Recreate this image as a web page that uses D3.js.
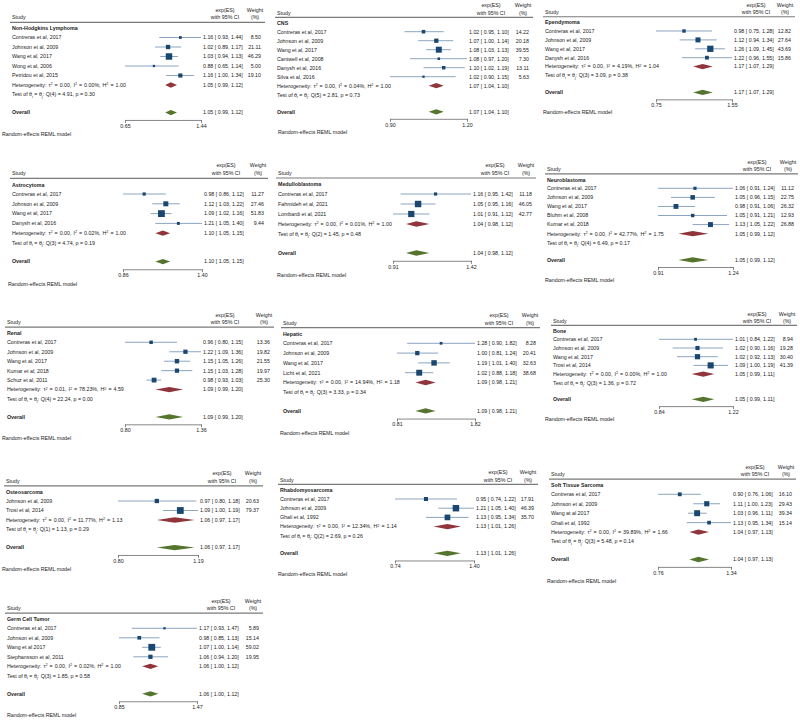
<!DOCTYPE html>
<html>
<head>
<meta charset="utf-8">
<script src="https://cdn.jsdelivr.net/npm/d3@7"></script>
<style>
  body { margin: 0; background: #fff; }
  svg text { font-family: "Liberation Sans", Arial, sans-serif; fill: #222; }
</style>
</head>
<body>
<svg id="chart" width="800" height="723"></svg>
<script>
// study rows: [study, exp(ES), lower, upper, weight %]
// pooled: [exp(ES), lower, upper, tau2, I2, H2, df, Q, p]
var nhlRows = [
  ['Contreras et al, 2017', 1.16, 0.93, 1.44, 8.50],
  ['Johnson et al, 2009', 1.02, 0.89, 1.17, 21.11],
  ['Wang et al, 2017', 1.03, 0.94, 1.13, 46.29],
  ['Wong et al, 2006', 0.88, 0.65, 1.14, 5.00],
  ['Petridou et al, 2015', 1.16, 1.00, 1.34, 19.10]
]
var nhlPooled = [1.05, 0.99, 1.12, '0.00', '0.00', '1.00', 4, '4.91', '0.30']
var nhlTicks = [0.65, 1.44]

var cnsRows = [
  ['Contreras et al, 2017', 1.02, 0.95, 1.10, 14.22],
  ['Johnson et al, 2009', 1.07, 1.00, 1.14, 20.18],
  ['Wang et al, 2017', 1.08, 1.03, 1.13, 39.55],
  ['Cantwell et al, 2008', 1.08, 0.97, 1.20, 7.30],
  ['Danysh et al, 2016', 1.10, 1.02, 1.19, 13.11],
  ['Silva et al, 2016', 1.02, 0.90, 1.15, 5.63]
]
var cnsPooled = [1.07, 1.04, 1.10, '0.00', '0.04', '1.00', 5, '2.81', '0.73']
var cnsTicks = [0.90, 1.20]

var ependRows = [
  ['Contreras et al, 2017', 0.98, 0.75, 1.28, 12.82],
  ['Johnson et al, 2009', 1.12, 0.94, 1.34, 27.64],
  ['Wang et al, 2017', 1.26, 1.09, 1.45, 43.69],
  ['Danysh et al, 2016', 1.22, 0.96, 1.55, 15.86]
]
var ependPooled = [1.17, 1.07, 1.29, '0.00', '4.19', '1.04', 3, '3.09', '0.38']
var ependTicks = [0.75, 1.55]

var astroRows = [
  ['Contreras et al, 2017', 0.98, 0.86, 1.12, 11.27],
  ['Johnson et al, 2009', 1.12, 1.03, 1.22, 27.46],
  ['Wang et al, 2017', 1.09, 1.02, 1.16, 51.83],
  ['Danysh et al, 2016', 1.21, 1.05, 1.40, 9.44]
]
var astroPooled = [1.10, 1.05, 1.15, '0.00', '0.02', '1.00', 3, '4.74', '0.19']
var astroTicks = [0.86, 1.40]

var meduRows = [
  ['Contreras et al, 2017', 1.16, 0.95, 1.42, 11.18],
  ['Fahmideh et al, 2021', 1.05, 0.95, 1.16, 46.05],
  ['Lombardi et al, 2021', 1.01, 0.91, 1.12, 42.77]
]
var meduPooled = [1.04, 0.98, 1.12, '0.00', '0.01', '1.00', 2, '1.45', '0.48']
var meduTicks = [0.91, 1.42]

var neuroRows = [
  ['Contreras et al, 2017', 1.06, 0.91, 1.24, 11.12],
  ['Johnson et al, 2009', 1.05, 0.96, 1.15, 22.75],
  ['Wang et al, 2017', 0.98, 0.91, 1.06, 26.32],
  ['Bluhm et al, 2008', 1.05, 0.91, 1.21, 12.93],
  ['Kumar et al, 2018', 1.13, 1.05, 1.22, 26.88]
]
var neuroPooled = [1.05, 0.99, 1.12, '0.00', '42.77', '1.75', 4, '6.49', '0.17']
var neuroTicks = [0.91, 1.24]

var renalRows = [
  ['Contreras et al, 2017', 0.96, 0.80, 1.15, 13.36],
  ['Johnson et al, 2009', 1.22, 1.09, 1.36, 19.82],
  ['Wang et al, 2017', 1.15, 1.05, 1.26, 21.55],
  ['Kumar et al, 2018', 1.15, 1.03, 1.28, 19.97],
  ['Schuz et al, 2011', 0.98, 0.93, 1.03, 25.30]
]
var renalPooled = [1.09, 0.99, 1.20, '0.01', '78.23', '4.59', 4, '22.24', '0.00']
var renalTicks = [0.80, 1.36]

var hepRows = [
  ['Contreras et al, 2017', 1.28, 0.90, 1.82, 8.28],
  ['Johnson et al, 2009', 1.00, 0.81, 1.24, 20.41],
  ['Wang et al, 2017', 1.19, 1.01, 1.40, 32.63],
  ['Licht et al, 2021', 1.02, 0.88, 1.18, 38.68]
]
var hepPooled = [1.09, 0.98, 1.21, '0.00', '14.94', '1.18', 3, '3.33', '0.34']
var hepTicks = [0.81, 1.82]

var boneRows = [
  ['Contreras et al, 2017', 1.01, 0.84, 1.22, 8.94],
  ['Johnson et al, 2009', 1.02, 0.90, 1.16, 19.28],
  ['Wang et al, 2017', 1.02, 0.92, 1.13, 30.40],
  ['Trosi et al, 2014', 1.09, 1.00, 1.19, 41.39]
]
var bonePooled = [1.05, 0.99, 1.11, '0.00', '0.00', '1.00', 3, '1.36', '0.72']
var boneTicks = [0.84, 1.22]

var osteoRows = [
  ['Johnson et al, 2009', 0.97, 0.80, 1.18, 20.63],
  ['Trosi et al, 2014', 1.09, 1.00, 1.19, 79.37]
]
var osteoPooled = [1.06, 0.97, 1.17, '0.00', '11.77', '1.13', 1, '1.13', '0.29']
var osteoTicks = [0.80, 1.19]

var rhabRows = [
  ['Contreras et al, 2017', 0.95, 0.74, 1.22, 17.91],
  ['Johnson et al, 2009', 1.21, 1.05, 1.40, 46.39],
  ['Ghali et al, 1992', 1.13, 0.95, 1.34, 35.70]
]
var rhabPooled = [1.13, 1.01, 1.26, '0.00', '12.34', '1.14', 2, '2.69', '0.26']
var rhabTicks = [0.74, 1.40]

var softRows = [
  ['Contreras et al, 2017', 0.90, 0.76, 1.06, 16.10],
  ['Johnson et al, 2009', 1.11, 1.00, 1.23, 29.43],
  ['Wang at al 2017', 1.03, 0.96, 1.11, 39.34],
  ['Ghali et al, 1992', 1.13, 0.95, 1.34, 15.14]
]
var softPooled = [1.04, 0.97, 1.13, '0.00', '39.89', '1.66', 3, '5.48', '0.14']
var softTicks = [0.76, 1.34]

var germRows = [
  ['Contreras et al, 2017', 1.17, 0.93, 1.47, 5.89],
  ['Johnson et al, 2009', 0.98, 0.85, 1.13, 15.14],
  ['Wang et al 2017', 1.07, 1.00, 1.14, 59.02],
  ['Stephansson et al, 2011', 1.06, 0.94, 1.20, 19.95]
]
var germPooled = [1.06, 1.00, 1.12, '0.00', '0.02', '1.00', 3, '1.85', '0.58']
var germTicks = [0.85, 1.47]

// layout of each panel (label x, REML note x, axis start, value column x, weight right edge, first row y, row step)
var panels = [
  {name: 'Non-Hodgkins Lymphoma', rows: nhlRows, pooled: nhlPooled, ticks: nhlTicks, lx: 12, rx: 2, ax0: 125, valX: 203, wtR: 261, r0: 37.5, s: 9.5},
  {name: 'CNS', rows: cnsRows, pooled: cnsPooled, ticks: cnsTicks, lx: 277, rx: 278, ax0: 390, valX: 469, wtR: 529, r0: 31.7, s: 9},
  {name: 'Ependymoma', rows: ependRows, pooled: ependPooled, ticks: ependTicks, lx: 545, rx: 543, ax0: 656, valX: 734, wtR: 791, r0: 31, s: 8.9},
  {name: 'Astrocytoma', rows: astroRows, pooled: astroPooled, ticks: astroTicks, lx: 12, rx: 8, ax0: 123, valX: 204, wtR: 264, r0: 194, s: 9.8},
  {name: 'Medulloblastoma', rows: meduRows, pooled: meduPooled, ticks: meduTicks, lx: 278, rx: 277, ax0: 393, valX: 473, wtR: 532, r0: 194, s: 10},
  {name: 'Neuroblastoma', rows: neuroRows, pooled: neuroPooled, ticks: neuroTicks, lx: 547, rx: 545, ax0: 658, valX: 735, wtR: 794, r0: 188.3, s: 9.07},
  {name: 'Renal', rows: renalRows, pooled: renalPooled, ticks: renalTicks, lx: 7, rx: 2, ax0: 125, valX: 203, wtR: 270, r0: 342.3, s: 9.45},
  {name: 'Hepatic', rows: hepRows, pooled: hepPooled, ticks: hepTicks, lx: 283, rx: 280, ax0: 397, valX: 477, wtR: 536, r0: 343.3, s: 9.8},
  {name: 'Bone', rows: boneRows, pooled: bonePooled, ticks: boneTicks, lx: 553, rx: 545, ax0: 659, valX: 735, wtR: 793, r0: 339.3, s: 8.7},
  {name: 'Osteosarcoma', rows: osteoRows, pooled: osteoPooled, ticks: osteoTicks, lx: 6, rx: 2, ax0: 118, valX: 200, wtR: 259, r0: 501, s: 9.5},
  {name: 'Rhabdomyosarcoma', rows: rhabRows, pooled: rhabPooled, ticks: rhabTicks, lx: 280, rx: 278, ax0: 395, valX: 476, wtR: 534, r0: 499, s: 9.2},
  {name: 'Soft Tissue Sarcoma', rows: softRows, pooled: softPooled, ticks: softTicks, lx: 551, rx: 547, ax0: 658, valX: 733, wtR: 792, r0: 494.3, s: 9.45},
  {name: 'Germ Cell Tumor', rows: germRows, pooled: germPooled, ticks: germTicks, lx: 7, rx: 7, ax0: 119, valX: 199, wtR: 259, r0: 628.3, s: 9.5}
]

var FS = 5.3
var NAVY = '#1a476f', MAROON = '#90353b', GREEN = '#55752f', CI = '#6f8db0'
var svg = d3.select('#chart')
var f2 = d3.format('.2f')

function ciText(es, lo, hi) {
  return f2(es) + ' [ ' + f2(lo) + ', ' + f2(hi) + ']'
}

function txt(g, x, y, s, anchor, bold) {
  return g.append('text')
    .attr('x', x)
    .attr('y', y)
    .attr('dy', '0.35em')
    .attr('font-size', FS)
    .attr('text-anchor', anchor || 'start')
    .attr('font-weight', bold ? 'bold' : null)
    .text(s)
}

// small raised / lowered characters inside a text line
function shifted(t, s, dy) {
  t.append('tspan').attr('font-size', FS * 0.72).attr('dy', dy).text(s)
  return t.append('tspan').attr('dy', -dy)
}

function diamondPath(x, yc, h, es, lo, hi) {
  return 'M' + x(lo) + ',' + yc + 'L' + x(es) + ',' + (yc - h / 2) +
    'L' + x(hi) + ',' + yc + 'L' + x(es) + ',' + (yc + h / 2) + 'Z'
}

panels.forEach(function(p) {
  var g = svg.append('g')
  var n = p.rows.length
  var rowY = function(i) { return p.r0 + i * p.s }
  var x = d3.scaleLog().domain(p.ticks).range([p.ax0, p.valX - 2])

  var hetY = rowY(n), testY = rowY(n + 1)
  var ovY = testY + 1.9 * p.s
  var axY = ovY + 0.78 * p.s
  var remlY = ovY + 2.25 * p.s
  var catY = p.r0 - 0.95 * p.s
  var lineY = catY - 0.65 * p.s
  var h2Y = lineY - 0.5 * p.s
  var h1Y = h2Y - 0.8 * p.s
  var valC = p.valX + 22, wtC = p.wtR - 6

  // header
  txt(g, p.lx, h2Y, 'Study')
  txt(g, valC, h1Y, 'exp(ES)', 'middle')
  txt(g, valC, h2Y, 'with 95% CI', 'middle')
  txt(g, wtC, h1Y, 'Weight', 'middle')
  txt(g, wtC, h2Y, '(%)', 'middle')
  g.append('line')
    .attr('x1', p.lx - 2).attr('x2', p.wtR + 4)
    .attr('y1', lineY).attr('y2', lineY)
    .attr('stroke', '#7a7a7a').attr('stroke-width', 1.2)
  txt(g, p.lx, catY, p.name, 'start', true)

  // study rows
  p.rows.forEach(function(d, i) {
    var y = rowY(i)
    txt(g, p.lx, y, d[0])
    g.append('line')
      .attr('x1', x(d[2])).attr('x2', x(d[3]))
      .attr('y1', y).attr('y2', y)
      .attr('stroke', CI).attr('stroke-width', 0.8)
    var side = Math.min(6.8, Math.max(2.3, 0.95 * Math.sqrt(d[4])))
    g.append('rect')
      .attr('x', x(d[1]) - side / 2).attr('y', y - side / 2)
      .attr('width', side).attr('height', side)
      .attr('fill', NAVY)
    txt(g, p.valX, y, ciText(d[1], d[2], d[3]))
    txt(g, p.wtR, y, f2(d[4]), 'end')
  })

  var pl = p.pooled
  // heterogeneity row
  var h = txt(g, p.lx, hetY, 'Heterogeneity: \u03c4').attr('word-spacing', 0.5)
  shifted(h, '2', -1.8).text(' = ' + pl[3] + ', I')
  shifted(h, '2', -1.8).text(' = ' + pl[4] + '%, H')
  shifted(h, '2', -1.8).text(' = ' + pl[5])
  g.append('path')
    .attr('d', diamondPath(x, hetY, 5.3, pl[0], pl[1], pl[2]))
    .attr('fill', MAROON)
  txt(g, p.valX, hetY, ciText(pl[0], pl[1], pl[2]))

  // test of homogeneity
  var t = txt(g, p.lx, testY, 'Test of \u03b8')
  shifted(t, 'i', 1.2).text(' = \u03b8')
  shifted(t, 'j', 1.2).text(': Q(' + pl[6] + ') = ' + pl[7] + ', p = ' + pl[8])

  // overall
  txt(g, p.lx, ovY, 'Overall', 'start', true)
  g.append('path')
    .attr('d', diamondPath(x, ovY, 5.3, pl[0], pl[1], pl[2]))
    .attr('fill', GREEN)
  txt(g, p.valX, ovY, ciText(pl[0], pl[1], pl[2]))

  // axis
  var ax = g.append('g')
    .attr('transform', 'translate(0,' + axY + ')')
    .call(d3.axisBottom(x).tickValues(p.ticks).tickSize(3).tickSizeOuter(0).tickPadding(1).tickFormat(f2))
  ax.attr('font-family', null).attr('font-size', FS)
  ax.selectAll('path, line').attr('stroke', '#555').attr('stroke-width', 0.7)
  ax.selectAll('text').attr('fill', '#222')

  txt(g, p.rx, remlY, 'Random-effects REML model')
})
</script>
</body>
</html>
